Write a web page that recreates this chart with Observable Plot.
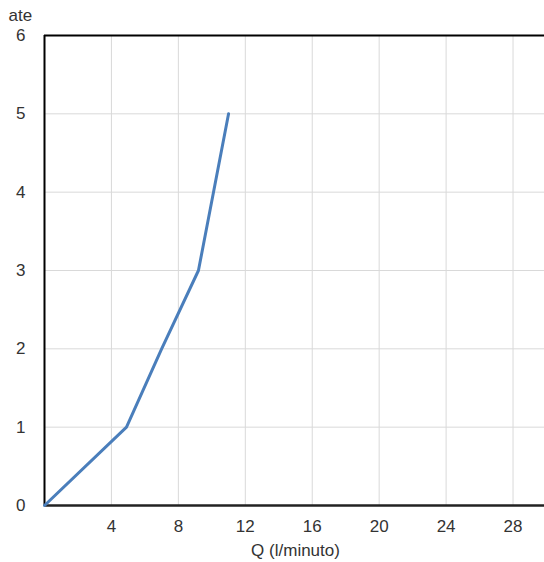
<!DOCTYPE html>
<html><head><meta charset="utf-8">
<script src="https://cdn.jsdelivr.net/npm/d3@7"></script>
<script src="https://cdn.jsdelivr.net/npm/@observablehq/plot@0.6"></script>
<style>body{margin:0;background:#fff;} svg{display:block;}</style>
</head><body><div id="chart"></div>
<script>
const qValues = [0, 4.9, 7.0, 9.2, 11.0];
const ateValues = [0, 1, 2, 3, 5];
const xTicks = [4, 8, 12, 16, 20, 24, 28];
const yTicks = [0, 1, 2, 3, 4, 5, 6];
const data = qValues.map((q, i) => ({q, a: ateValues[i]}));

const chart = Plot.plot({
  width: 544, height: 562,
  marginLeft: 44, marginRight: -2, marginTop: 35, marginBottom: 57,
  style: {fontFamily: "Liberation Sans, Arial, sans-serif", fontSize: "17px", color: "#333"},
  x: {domain: [0, 30]},
  y: {domain: [0, 6]},
  marks: [
    Plot.gridX(xTicks, {stroke: "#d9d9d9", strokeOpacity: 1, strokeWidth: 1}),
    Plot.gridY(yTicks, {stroke: "#d9d9d9", strokeOpacity: 1, strokeWidth: 1}),
    Plot.axisX(xTicks, {tickFormat: d3.format("d"), tickSize: 0, tickPadding: 14, fontSize: 17, fill: "#333", label: "Q (l/minuto)", labelAnchor: "center", labelOffset: 50, labelArrow: "none"}),
    Plot.axisY(yTicks, {tickFormat: d3.format("d"), tickSize: 0, tickPadding: 19, fontSize: 17, fill: "#333", label: null}),
    Plot.ruleY([6], {stroke: "#000", strokeWidth: 2}),
    Plot.ruleY([0], {stroke: "#222", strokeWidth: 2.5}),
    Plot.ruleX([0], {stroke: "#000", strokeWidth: 2}),
    Plot.line(data, {x: "q", y: "a", stroke: "#4a7ebb", strokeWidth: 3}),
    Plot.text(["ate"], {frameAnchor: "top-left", textAnchor: "start", lineAnchor: "top", dx: -36, dy: -27, fill: "#333", fontSize: 17})
  ]
});
document.getElementById("chart").append(chart);
</script>
</body></html>
